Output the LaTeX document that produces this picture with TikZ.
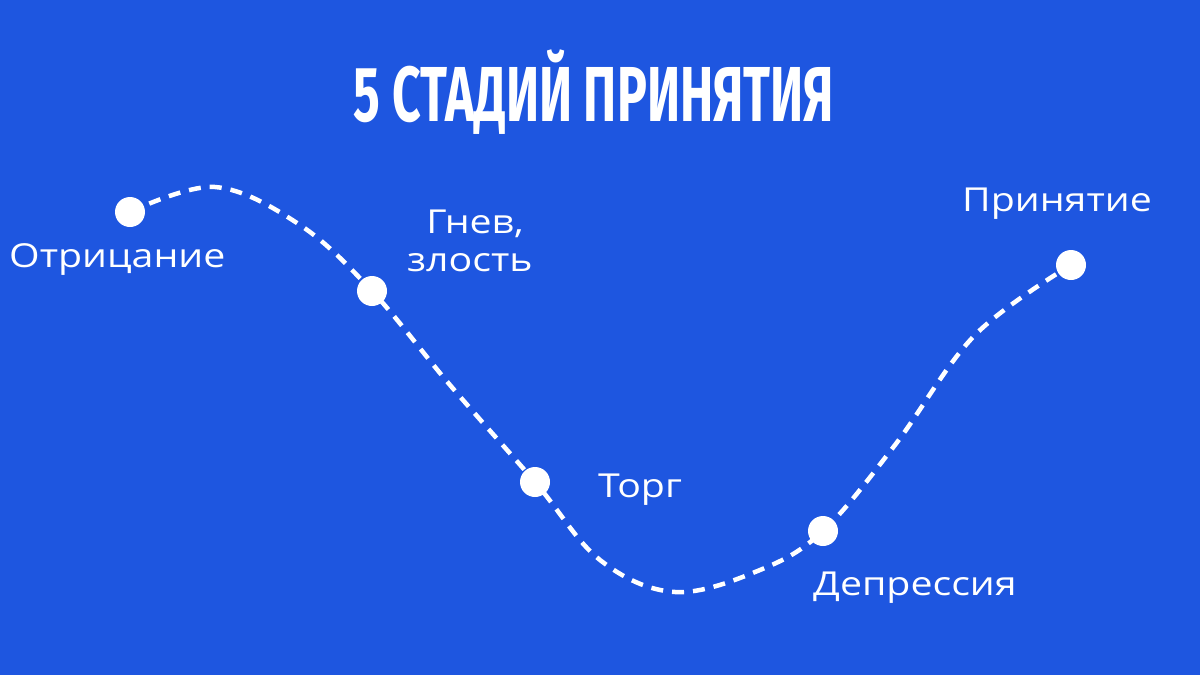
\documentclass[tikz,border=0pt]{standalone}
\usepackage{fontspec}
\setmainfont{Open Sans}
\newfontfamily\titlefont{Fira Sans}
\definecolor{bg}{HTML}{1E56E0}
\begin{document}
\begin{tikzpicture}[x=1pt,y=-1pt,
  dot/.style={circle,fill=white,minimum size=30pt,inner sep=0pt},
  lbl/.style={text=white,font=\fontsize{33}{38}\selectfont,align=left,inner sep=0pt,xscale=1.19}]
\fill[bg] (0,0) rectangle (1200,675);
\useasboundingbox (0,0) rectangle (1200,675);
\node[text=white,font=\titlefont\bfseries\fontsize{78}{78}\selectfont,xscale=0.64] (title) at (594,92) {5 СТАДИЙ ПРИНЯТИЯ};
\draw[white,line width=4.5pt,dash pattern=on 12pt off 9pt] plot[smooth,tension=0.6] coordinates {(130,212) (215,187) (300,225) (372,291) (450,385) (535,482) (600,560) (675,592) (760,570) (823,531) (895,445) (975,335) (1071,265)};
\node[dot] (a) at (130,212) {};
\node[dot] (b) at (372,291) {};
\node[dot] (c) at (535,482) {};
\node[dot] (d) at (823,531) {};
\node[dot] (e) at (1071,265) {};
\node[lbl,anchor=west] (la) at (9,259) {Отрицание};
\node[lbl,anchor=north west] (lb) at (407,210) {\hspace*{16pt}Гнев,\\злость};
\node[lbl,anchor=west] (lc) at (598,490) {Торг};
\node[lbl,anchor=west] (ld) at (813,588) {Депрессия};
\node[lbl,anchor=west] (le) at (962,204) {Принятие};
\end{tikzpicture}
\end{document}
